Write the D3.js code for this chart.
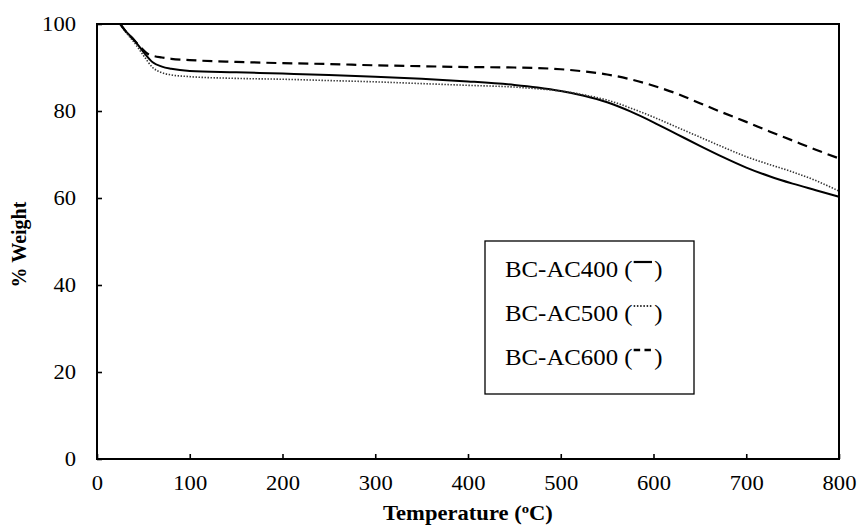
<!DOCTYPE html>
<html>
<head>
<meta charset="utf-8">
<script src="https://cdn.jsdelivr.net/npm/d3@7"></script>
<style>
  html, body { margin: 0; padding: 0; background: #fff; }
  svg { display: block; }
  text { font-family: "Liberation Serif", "Times New Roman", serif; fill: #000; }
</style>
</head>
<body>
<svg id="chart" width="861" height="525"></svg>
<script>
// ---- data ----
const xTicks = [0, 100, 200, 300, 400, 500, 600, 700, 800];
const yTicks = [0, 20, 40, 60, 80, 100];

const temp400 = [25,30,40,50,60,70,80,100,150,200,250,300,350,400,450,475,500,525,550,575,600,625,650,675,700,725,750,775,800];
const weight400 = [100,98.6,96.3,93.6,91.2,90.2,89.7,89.2,88.9,88.6,88.3,87.9,87.4,86.8,86.0,85.4,84.6,83.5,82.0,79.9,77.4,74.7,72.0,69.4,67.0,65.0,63.3,61.8,60.3];

const temp500 = [25,30,40,50,60,70,80,100,150,200,250,300,350,400,450,475,500,525,550,575,600,625,650,675,700,725,750,775,800];
const weight500 = [100,98.4,95.8,92.8,90.0,88.8,88.3,87.9,87.5,87.3,87.0,86.7,86.3,85.9,85.5,85.1,84.6,83.7,82.5,80.7,78.6,76.3,74.0,71.7,69.5,67.7,66.0,64.0,61.6];

const temp600 = [25,30,40,50,55,60,70,80,100,150,200,250,300,350,400,450,500,525,550,575,600,625,650,675,700,725,750,775,800];
const weight600 = [100,98.6,96.3,94.0,93.1,92.7,92.3,92.0,91.7,91.3,91.0,90.8,90.5,90.3,90.1,90.0,89.6,89.1,88.4,87.3,85.8,84.0,81.8,79.6,77.5,75.3,73.2,71.1,69.1];

const seriesNames = ["BC-AC400", "BC-AC500", "BC-AC600"];

// ---- layout ----
const svg = d3.select("#chart");
const L = 97, R = 839, T = 24, B = 459;
const stretch = 1.13;

const x = d3.scaleLinear().domain([0, 800]).range([L, R]);
const y = d3.scaleLinear().domain([0, 100]).range([B, T]);

const styles = [
  { width: 2, dash: null, color: "#000" },
  { width: 1.6, dash: "1.4,1.6", color: "#333" },
  { width: 2.2, dash: "10,6", color: "#000" }
];

const series = [
  { name: seriesNames[0], data: temp400.map((t, i) => [t, weight400[i]]), style: styles[0] },
  { name: seriesNames[1], data: temp500.map((t, i) => [t, weight500[i]]), style: styles[1] },
  { name: seriesNames[2], data: temp600.map((t, i) => [t, weight600[i]]), style: styles[2] }
];

// axes
const xAxis = d3.axisBottom(x).tickValues(xTicks).tickSizeInner(-5).tickSizeOuter(0).tickPadding(17);
const yAxis = d3.axisLeft(y).tickValues(yTicks).tickSizeInner(-5).tickSizeOuter(0).tickPadding(21);

const gx = svg.append("g").attr("transform", `translate(0,${B})`).call(xAxis);
const gy = svg.append("g").attr("transform", `translate(${L},0)`).call(yAxis);

[gx, gy].forEach(g => {
  g.select(".domain").remove();
  g.selectAll(".tick line").attr("stroke", "#000").attr("stroke-width", 1.6);
  g.selectAll(".tick text")
    .style("font-family", '"Liberation Serif", "Times New Roman", serif')
    .style("font-size", "20px")
    .attr("fill", "#000")
    .each(function () {
      const tx = +this.getAttribute("x") || 0;
      d3.select(this).attr("x", 0).attr("transform", `translate(${tx},0) scale(${stretch},1)`);
    });
});

// lines
const line = d3.line().x(d => x(d[0])).y(d => y(d[1])).curve(d3.curveMonotoneX);
svg.append("g").selectAll("path").data(series).join("path")
  .attr("d", d => line(d.data))
  .attr("fill", "none")
  .attr("stroke", d => d.style.color)
  .attr("stroke-width", d => d.style.width)
  .attr("stroke-dasharray", d => d.style.dash);

// frame
svg.append("rect")
  .attr("x", L).attr("y", T).attr("width", R - L).attr("height", B - T)
  .attr("fill", "none").attr("stroke", "#000").attr("stroke-width", 2);

// axis titles
const xt = svg.append("g").attr("transform", `translate(${(L + R) / 2},520) scale(${stretch},1)`)
  .append("text").attr("text-anchor", "middle")
  .style("font-size", "20px").style("font-weight", "bold");
xt.append("tspan").text("Temperature (");
xt.append("tspan").attr("dy", -7).style("font-size", "13px").text("o");
xt.append("tspan").attr("dy", 7).text("C)");

svg.append("text")
  .attr("transform", `translate(26,${(T + B) / 2 + 3}) rotate(-90)`)
  .attr("text-anchor", "middle")
  .style("font-size", "20px").style("font-weight", "bold")
  .text("% Weight");

// legend
svg.append("rect")
  .attr("x", 485).attr("y", 241).attr("width", 209).attr("height", 153)
  .attr("fill", "#fff").attr("stroke", "#000").attr("stroke-width", 1.3);

const legStretch = 1.08;
const rowBase = [277, 321, 365];
series.forEach((s, i) => {
  const g = svg.append("g").attr("transform", `translate(505,${rowBase[i]}) scale(${legStretch},1)`);
  const t1 = g.append("text").style("font-size", "23px").text(s.name + " (");
  const w = t1.node().getComputedTextLength();
  const lw = 17;
  g.append("line")
    .attr("x1", w + 1).attr("x2", w + 1 + lw)
    .attr("y1", -15).attr("y2", -15)
    .attr("stroke", s.style.color)
    .attr("stroke-width", s.style.width + 0.2)
    .attr("stroke-dasharray", i === 2 ? "6,4" : s.style.dash);
  g.append("text").attr("x", w + lw + 3).style("font-size", "23px").text(")");
});
</script>
</body>
</html>
